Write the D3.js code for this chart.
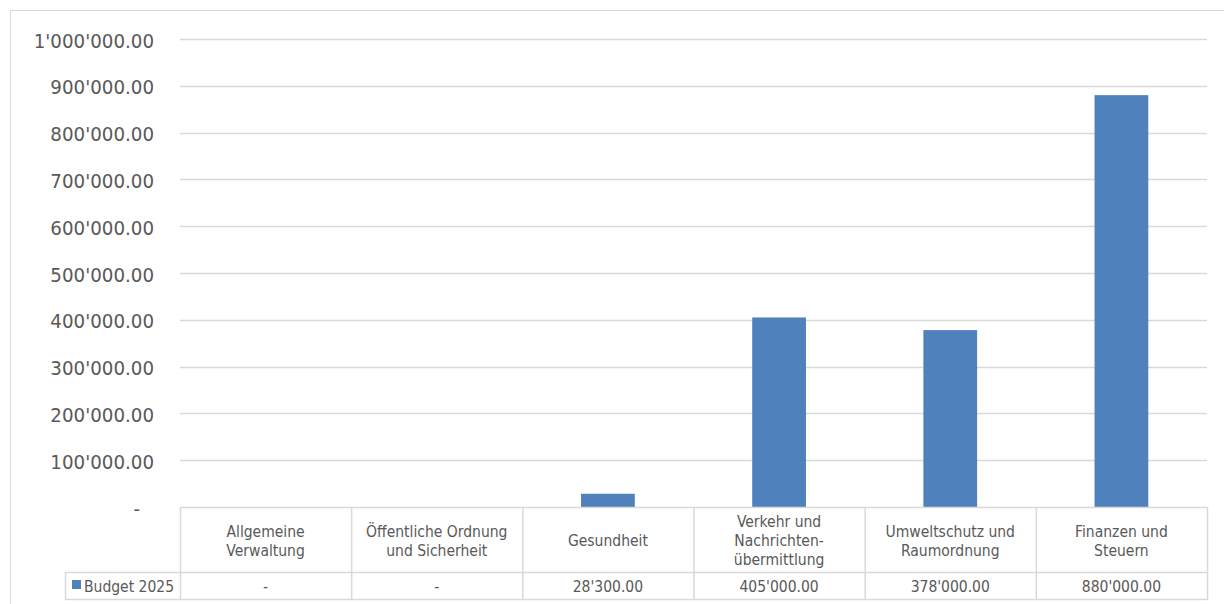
<!DOCTYPE html>
<html>
<head>
<meta charset="utf-8">
<script src="https://cdnjs.cloudflare.com/ajax/libs/d3/7.8.5/d3.min.js"></script>
<style>
  html, body { margin: 0; padding: 0; background: #fff; }
  svg { display: block; }
  text { font-family: "DejaVu Sans Condensed", "DejaVu Sans", sans-serif; font-stretch: condensed; fill: #595959; }
</style>
</head>
<body>
<svg id="chart" width="1224" height="604"></svg>
<script>
// ---- data ----
const categories = [
  ["Allgemeine", "Verwaltung"],
  ["Öffentliche Ordnung", "und Sicherheit"],
  ["Gesundheit"],
  ["Verkehr und", "Nachrichten-", "übermittlung"],
  ["Umweltschutz und", "Raumordnung"],
  ["Finanzen und", "Steuern"]
];
const categoryKeys = ["Allgemeine Verwaltung", "Öffentliche Ordnung und Sicherheit", "Gesundheit",
  "Verkehr und Nachrichtenübermittlung", "Umweltschutz und Raumordnung", "Finanzen und Steuern"];
const seriesName = "Budget 2025";
const values = [0, 0, 28300, 405000, 378000, 880000];
const yTicks = [0, 100000, 200000, 300000, 400000, 500000, 600000, 700000, 800000, 900000, 1000000];

// ---- formatting ----
function swiss(v) {
  if (v === 0) return "-";
  const s = d3.format(",.2f")(v);
  return s.replace(/,/g, "'");
}

const svg = d3.select("#chart");
const grid = "#d9d9d9";
const barColor = "#4f81bd";

// outer frame
svg.append("path")
  .attr("d", "M10.5,604 L10.5,10.5 L1224,10.5")
  .attr("fill", "none").attr("stroke", grid).attr("stroke-width", 1);

const plotLeft = 180, plotRight = 1207, plotTop = 39, plotBottom = 507;
const catRowBottom = 572, valRowBottom = 599, legendLeft = 65;

const y = d3.scaleLinear().domain([0, 1000000]).range([plotBottom, plotTop]);
const col = d3.scaleBand().domain(categoryKeys).range([plotLeft, plotRight]).padding(0);
const xBar = d3.scaleBand().domain(categoryKeys).range([plotLeft, plotRight])
  .paddingInner(0.686).paddingOuter(0.343);

// gridlines
svg.append("g").selectAll("line").data(yTicks.filter(d => d > 0)).join("line")
  .attr("x1", plotLeft).attr("x2", plotRight)
  .attr("y1", d => Math.round(y(d)) + 0.5).attr("y2", d => Math.round(y(d)) + 0.5)
  .attr("stroke", grid).attr("stroke-width", 1.3);

// y axis labels
const yAxis = d3.axisLeft(y).tickValues(yTicks).tickFormat(swiss).tickSize(0).tickPadding(0);
const ga = svg.append("g").attr("transform", `translate(154,0)`).call(yAxis);
ga.select(".domain").remove();
ga.selectAll("text")
  .attr("font-size", "20.3px")
  .attr("fill", "#595959")
  .attr("font-family", "DejaVu Sans Condensed, DejaVu Sans, sans-serif")
  .attr("dy", "0.4em")
  .attr("x", d => d === 0 ? -14 : 0);

// bars
svg.append("g").selectAll("rect").data(values).join("rect")
  .attr("x", (d, i) => xBar(categoryKeys[i]))
  .attr("width", xBar.bandwidth())
  .attr("y", d => y(d))
  .attr("height", d => y(0) - y(d))
  .attr("fill", barColor);

// data table lines
const tl = svg.append("g").attr("stroke", grid).attr("stroke-width", 1.5).attr("fill", "none");
tl.append("line").attr("x1", plotLeft).attr("x2", plotRight).attr("y1", plotBottom + 0.5).attr("y2", plotBottom + 0.5);
tl.append("line").attr("x1", legendLeft).attr("x2", plotRight).attr("y1", catRowBottom + 0.5).attr("y2", catRowBottom + 0.5);
tl.append("line").attr("x1", legendLeft).attr("x2", plotRight).attr("y1", valRowBottom + 0.5).attr("y2", valRowBottom + 0.5);
tl.append("line").attr("x1", legendLeft + 0.5).attr("x2", legendLeft + 0.5).attr("y1", catRowBottom).attr("y2", valRowBottom);
tl.selectAll("line.v").data(categoryKeys).join("line").attr("class", "v")
  .attr("x1", d => col(d) + 0.5).attr("x2", d => col(d) + 0.5)
  .attr("y1", plotBottom).attr("y2", valRowBottom);
tl.append("line").attr("x1", plotRight + 0.5).attr("x2", plotRight + 0.5).attr("y1", plotBottom).attr("y2", valRowBottom + 1);

// category labels
const lineH = 19;
const catMid = (plotBottom + catRowBottom) / 2;
const cg = svg.append("g").selectAll("text").data(categories).join("text")
  .attr("text-anchor", "middle")
  .attr("font-size", "15.5px")
  .attr("x", (d, i) => col(categoryKeys[i]) + col.bandwidth() / 2)
  .attr("y", d => catMid + 1 - (d.length - 1) * lineH / 2);
cg.selectAll("tspan").data(d => d).join("tspan")
  .attr("x", function () { return d3.select(this.parentNode).attr("x"); })
  .attr("dy", (d, i) => i === 0 ? "0.36em" : lineH)
  .text(d => d);

// value row
const valMid = (catRowBottom + valRowBottom) / 2;
svg.append("g").selectAll("text").data(values).join("text")
  .attr("text-anchor", "middle")
  .attr("font-size", "15.5px")
  .attr("x", (d, i) => col(categoryKeys[i]) + col.bandwidth() / 2)
  .attr("y", valMid + 1)
  .attr("dy", "0.36em")
  .text(d => swiss(d));

// legend key
svg.append("rect").attr("x", 72).attr("y", 580).attr("width", 9).attr("height", 9).attr("fill", barColor);
svg.append("text").attr("x", 84).attr("y", valMid + 1).attr("dy", "0.36em")
  .attr("font-size", "15.5px").text(seriesName);
</script>
</body>
</html>
